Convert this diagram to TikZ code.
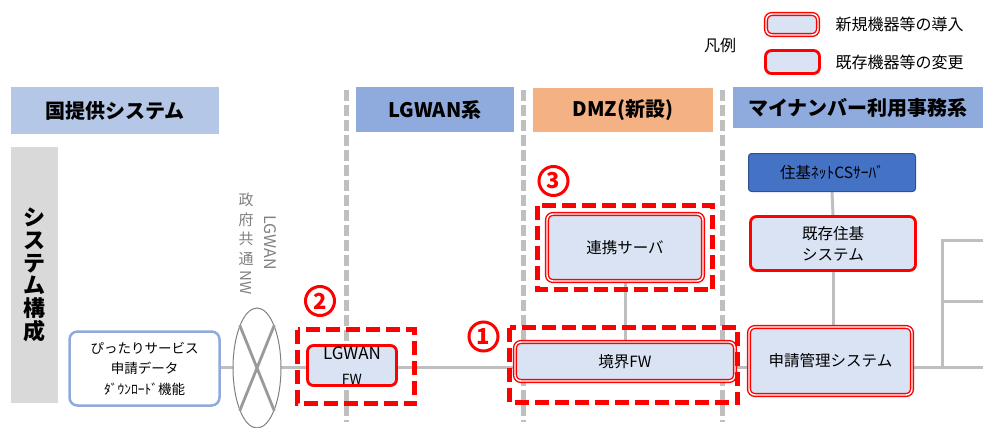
\documentclass[tikz,border=0pt]{standalone}
\usepackage{fontspec}
\setmainfont{Noto Sans CJK JP}
\usepackage{tikz}
\usetikzlibrary{positioning}
\usetikzlibrary{shapes.geometric}
\usetikzlibrary{backgrounds}

\definecolor{hdrlight}{HTML}{B4C7E7}
\definecolor{hdrblue}{HTML}{8FAADC}
\definecolor{hdrorange}{HTML}{F4B183}
\definecolor{bandgray}{HTML}{D9D9D9}
\definecolor{boxfill}{HTML}{DAE3F3}
\definecolor{csblue}{HTML}{4472C4}
\definecolor{csedge}{HTML}{2F528F}
\definecolor{linegray}{HTML}{BFBFBF}
\definecolor{nwgray}{HTML}{808080}
\definecolor{hlred}{HTML}{FF0000}

\begin{document}
\begin{tikzpicture}[x=1pt, y=-1pt,
  hdr/.style={fill=#1, inner sep=0pt, font=\fontsize{20}{24}\selectfont\bfseries},
  newbox/.style={draw=hlred, line width=1.4pt, double=white, double distance=1.4pt,
    fill=boxfill, rounded corners=6pt, inner sep=0pt, align=center,
    font=\fontsize{15.5}{21}\selectfont},
  oldbox/.style={draw=hlred, line width=2.8pt, fill=boxfill, rounded corners=6pt,
    inner sep=0pt, align=center, font=\fontsize{15.5}{21}\selectfont},
  hlbox/.style={draw=hlred, line width=5pt, dash pattern=on 14pt off 6pt},
  zone/.style={draw=linegray, line width=5pt, dash pattern=on 11pt off 4pt},
  link/.style={draw=linegray, line width=3pt},
  num/.style={circle, draw=hlred, line width=3pt, text=hlred, minimum size=29,
    inner sep=0pt, font=\fontsize{22}{22}\selectfont\bfseries},
  nwtext/.style={text=nwgray, inner sep=0pt, font=\fontsize{15}{19.5}\selectfont}]

\useasboundingbox (0,0) rectangle (983,428);

% legend
\node at (720,45) {\fontsize{16}{16}\selectfont 凡例};
\node[newbox, minimum width=52, minimum height=21] (legnew) at (792,24.5) {};
\node[oldbox, minimum width=54, minimum height=23] (legold) at (792.5,62) {};
\node[anchor=west, font=\fontsize{16}{16}\selectfont] (legnewtxt) at (832,24) {新規機器等の導入};
\node[anchor=west, font=\fontsize{16}{16}\selectfont] (legoldtxt) at (832,62) {既存機器等の変更};

% headers
\node[hdr=hdrlight, minimum width=208, minimum height=47] (kuni) at (115,110.5) {国提供システム};
\node[hdr=hdrblue, minimum width=158, minimum height=45] (lgwanhdr) at (435,109.5) {LGWAN系};
\node[hdr=hdrorange, minimum width=180, minimum height=44] (dmzhdr) at (623,110) {DMZ(新設)};
\node[hdr=hdrblue, minimum width=250, minimum height=41] (mynahdr) at (858,107.5) {マイナンバー利用事務系};

\node[fill=bandgray, minimum width=47, minimum height=256, inner sep=0pt, align=center,
  font=\fontsize{22}{22.7}\selectfont\bfseries] (band) at (34.5,275) {シ\\ス\\テ\\ム\\構\\成};

% boxes
\node[draw=hdrblue, line width=2.5pt, fill=white, rounded corners=8pt, minimum width=150,
  minimum height=74, inner sep=0pt, align=center, font=\fontsize{13.5}{20.5}\selectfont]
  (pittari) at (144.5,368.5) {ぴったりサービス\\申請データ\\ﾀﾞｳﾝﾛｰﾄﾞ機能};

\node[ellipse, draw=nwgray, line width=1pt, fill=white, minimum width=48, minimum height=120,
  inner sep=0pt] (lgwannw) at (257,368) {};
\draw[nwgray!80, line width=2.8pt] (lgwannw.112) -- (lgwannw.-68);
\draw[nwgray!80, line width=2.8pt] (lgwannw.68) -- (lgwannw.-112);
\node[nwtext, align=center] (nwkanji) at (246,229) {政\\府\\共\\通};
\node[nwtext, rotate=-90] (nwlatin) at (246,283) {NW};
\node[nwtext, rotate=-90, font=\fontsize{16}{16}\selectfont] (nwname) at (270,243) {LGWAN};

\node[oldbox, minimum width=89, minimum height=40] (lgwanfw) at (352,365.5) {};
\node[font=\fontsize{17}{17}\selectfont, inner sep=0pt] (lgwanfwtop) at (352,353) {LGWAN};
\node[font=\fontsize{14}{14}\selectfont, inner sep=0pt] (lgwanfwbot) at (352,379) {FW};

\node[newbox, minimum width=220, minimum height=39] (kyokai) at (625,361.5) {境界FW};
\node[newbox, minimum width=156, minimum height=67] (renkei) at (625,247.5) {連携サーバ};

\node[fill=csblue, draw=csedge, line width=1pt, rounded corners=3pt, minimum width=167,
  minimum height=38, inner sep=0pt, font=\fontsize{15.5}{21}\selectfont] (cssrv) at (832,172.5) {住基ﾈｯﾄCSｻｰﾊﾞ};
\node[oldbox, minimum width=165, minimum height=54] (kizon) at (833,243.5) {既存住基\\システム};
\node[newbox, minimum width=163, minimum height=68] (shinsei) at (830.5,361) {申請管理システム};

% highlighted changes
\draw[hlbox] (297.5,329.5) rectangle (414.5,403.5);
\draw[hlbox] (509.5,327.5) rectangle (737.5,402.5);
\draw[hlbox] (537.5,205.5) rectangle (712.5,289.5);
\node[num] (numone) at (483.5,336.5) {1};
\node[num] (numtwo) at (320,301) {2};
\node[num] (numthree) at (553.5,181) {3};

% lines behind
\coordinate (mainR) at (983,367);
\coordinate (treeTop) at (942,240);
\coordinate (treeMid) at (942,301);
\begin{scope}[on background layer]
  \draw[zone] (346,90) -- (346,422);
  \draw[zone] (523,90) -- (523,422);
  \draw[zone] (722,90) -- (722,422);
  \draw[link] (pittari.east |- mainR) -- (mainR);
  \draw[link] (renkei.south) -- (kyokai.north);
  \draw[link] (cssrv.south) -- (kizon.north);
  \draw[link] (kizon.south) -- (kizon.south |- shinsei.north);
  \draw[link] (treeTop -| mainR) -- (treeTop) -- (treeTop |- mainR);
  \draw[link] (treeMid) -- (treeMid -| mainR);
\end{scope}

\end{tikzpicture}
\end{document}
